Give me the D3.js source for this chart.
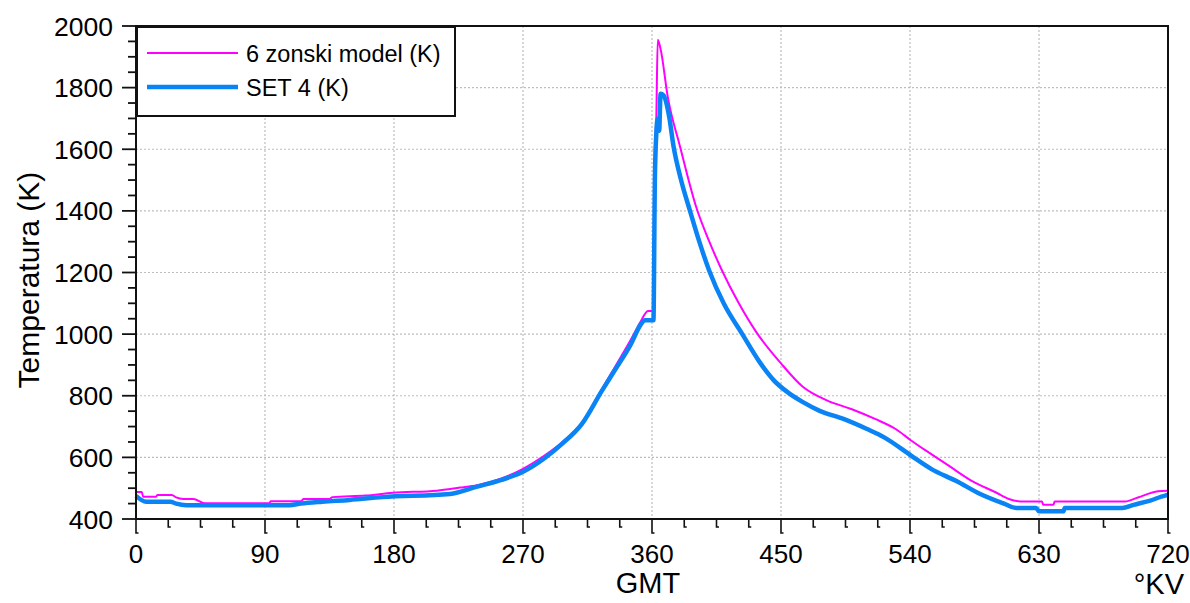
<!DOCTYPE html>
<html><head><meta charset="utf-8">
<script src="https://cdn.jsdelivr.net/npm/d3@7"></script>
<style>body{margin:0;background:#fff}svg{display:block}text{font-family:"Liberation Sans",Arial,sans-serif;fill:#000}</style>
</head><body><svg id="c" width="1190" height="603"></svg>
<script>
const seriesNames = ["6 zonski model (K)", "SET 4 (K)"];
const xTicks = [0, 90, 180, 270, 360, 450, 540, 630, 720];
const yTicks = [400, 600, 800, 1000, 1200, 1400, 1600, 1800, 2000];
const modelDeg = [0,4,5,14,15,25,28,33,40,48,93,94,115,117,135,137,160,179,210,226,238,255,270,285,300,315,325,335,345,352,355,357,361,362,363,364,366,371,379.5,391,400,409,420,433,450,465,482,499,516,530,541,553,567,583,600,609,617,632,633,640,641,690,699,713,720];
const modelT = [488,488,472,472,478,478,470,465,465,451,451,458,458,465,465,471,476,485,492,502,510,532,563,606,660,735,820,900,980,1040,1065,1075,1075,1600,1700,1955,1925,1770,1610,1410,1300,1205,1105,1005,905,830,785,757,724,692,654,616,573,524,486,465,457,457,446,446,457,457,470,490,492];
const setDeg = [0,7,24,28,35,107,115,130,149,172,219,238,255,270,285,297,311,325,335,345,352,355,361,362,363,364,365,366,368,372,375,380,386.5,393,400,410,423,435,445,455,465,477,494,510,522,541,555,572,589,606,614,628,630,647,648,688,696,707,718,720];
const setT = [475,456,456,450,445,445,450,456,462,471,481,505,527,553,597,643,708,816,890,965,1030,1045,1045,1500,1650,1700,1660,1780,1775,1705,1610,1505,1400,1300,1205,1100,1000,910,850,810,780,751,724,692,665,605,562,524,481,449,436,436,425,425,436,436,446,459,476,478];

const svg = d3.select("#c");
const L = 136, R = 1168, T = 26, B = 519;
const x = d3.scaleLinear().domain([0, 720]).range([L, R]);
const y = d3.scaleLinear().domain([400, 2000]).range([B, T]);

// grid
const g = svg.append("g");
xTicks.slice(1, -1).forEach(v => g.append("line").attr("x1", x(v)).attr("x2", x(v)).attr("y1", T).attr("y2", B)
  .attr("stroke", "#bdbdbd").attr("stroke-width", 1.2).attr("stroke-dasharray", "2,2"));
yTicks.slice(1, -1).forEach(v => g.append("line").attr("x1", L).attr("x2", R).attr("y1", y(v)).attr("y2", y(v))
  .attr("stroke", "#bdbdbd").attr("stroke-width", 1.2).attr("stroke-dasharray", "2,2"));

// lines
const line = d3.line().x(d => x(d[0])).y(d => y(d[1])).curve(d3.curveMonotoneX);
svg.append("path").datum(modelDeg.map((d, i) => [d, modelT[i]])).attr("d", line)
  .attr("fill", "none").attr("stroke", "#ff00ff").attr("stroke-width", 2);
svg.append("path").datum(setDeg.map((d, i) => [d, setT[i]])).attr("d", line)
  .attr("fill", "none").attr("stroke", "#0a84f5").attr("stroke-width", 4.5).attr("stroke-linejoin", "round");

// frame
svg.append("rect").attr("x", L).attr("y", T).attr("width", R - L).attr("height", B - T)
  .attr("fill", "none").attr("stroke", "#111").attr("stroke-width", 2);

// x axis ticks
const xMinor = d3.range(0, 721, 22.5);
xMinor.forEach(v => {
  const major = Math.abs(v / 90 - Math.round(v / 90)) < 1e-6;
  const len = major ? 14 : 8;
  svg.append("path").attr("d", `M${x(v)},${B} v${len} h2.5`).attr("fill", "none")
    .attr("stroke", "#111").attr("stroke-width", 1.6);
});
svg.append("g").selectAll("text").data(xTicks).join("text")
  .attr("x", d => x(d)).attr("y", 563).attr("text-anchor", "middle").attr("font-size", 26).text(d => d);

// y axis ticks
d3.range(400, 2001, 50).forEach(v => {
  const major = v % 200 === 0;
  svg.append("line").attr("x1", L).attr("x2", L - (major ? 14 : 8)).attr("y1", y(v)).attr("y2", y(v))
    .attr("stroke", "#111").attr("stroke-width", 1.8);
});
svg.append("g").selectAll("text").data(yTicks).join("text")
  .attr("x", 113).attr("y", d => y(d) + 9.5).attr("text-anchor", "end").attr("font-size", 26.5).text(d => d);

// axis titles
svg.append("text").attr("x", 648).attr("y", 593).attr("text-anchor", "middle").attr("font-size", 29).text("GMT");
svg.append("text").attr("x", 1184).attr("y", 594).attr("text-anchor", "end").attr("font-size", 29).text("°KV");
svg.append("text").attr("transform", "translate(39,280) rotate(-90)").attr("text-anchor", "middle")
  .attr("font-size", 30).text("Temperatura (K)");

// legend
const lg = svg.append("g");
lg.append("rect").attr("x", 137).attr("y", 27).attr("width", 318).attr("height", 89)
  .attr("fill", "#fff").attr("stroke", "#111").attr("stroke-width", 2);
const lcol = ["#ff00ff", "#0a84f5"], lw = [2, 4.5];
seriesNames.forEach((n, i) => {
  const yy = 53 + i * 34;
  lg.append("line").attr("x1", 147).attr("x2", 238).attr("y1", yy).attr("y2", yy)
    .attr("stroke", lcol[i]).attr("stroke-width", lw[i]);
  lg.append("text").attr("x", 246).attr("y", yy + 8.5).attr("font-size", 23.5).text(n);
});
</script></body></html>
